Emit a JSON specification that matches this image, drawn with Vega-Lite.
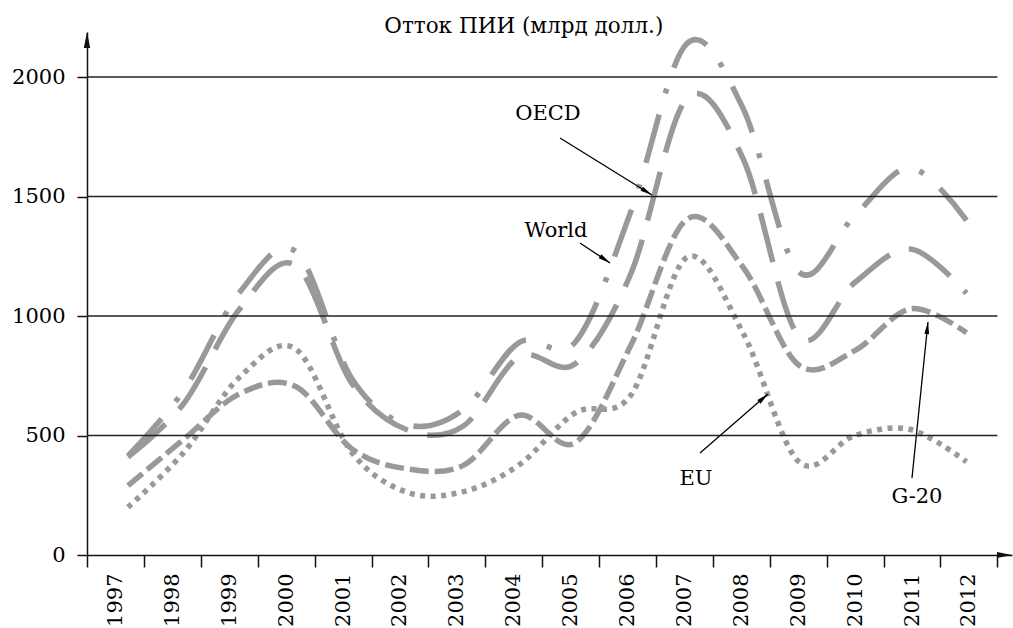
{
  "$schema": "https://vega.github.io/schema/vega-lite/v6.json",
  "width": 925,
  "height": 523,
  "autosize": {"type": "none"},
  "padding": {"left": 87, "top": 32, "right": 1, "bottom": 73},
  "background": "white",
  "config": {
    "view": {"stroke": null},
    "font": "DejaVu Serif",
    "axis": {
      "labelFont": "DejaVu Serif",
      "labelFontSize": 21,
      "labelColor": "#000",
      "domainColor": "#111",
      "domainWidth": 1.5,
      "tickColor": "#111",
      "tickWidth": 1.5,
      "grid": false,
      "labelFlush": false,
      "labelOverlap": false,
      "labelBound": false
    }
  },
  "datasets": {
    "fdi": [
      {"series": "World", "year": 1997, "value": 415},
      {"series": "World", "year": 1998, "value": 690},
      {"series": "World", "year": 1999, "value": 1100},
      {"series": "World", "year": 2000, "value": 1270},
      {"series": "World", "year": 2001, "value": 740},
      {"series": "World", "year": 2002, "value": 545},
      {"series": "World", "year": 2003, "value": 608},
      {"series": "World", "year": 2004, "value": 890},
      {"series": "World", "year": 2005, "value": 890},
      {"series": "World", "year": 2006, "value": 1440},
      {"series": "World", "year": 2007, "value": 2140},
      {"series": "World", "year": 2008, "value": 1870},
      {"series": "World", "year": 2009, "value": 1185},
      {"series": "World", "year": 2010, "value": 1420},
      {"series": "World", "year": 2011, "value": 1620},
      {"series": "World", "year": 2012, "value": 1400},
      {"series": "OECD", "year": 1997, "value": 410},
      {"series": "OECD", "year": 1998, "value": 635},
      {"series": "OECD", "year": 1999, "value": 1030},
      {"series": "OECD", "year": 2000, "value": 1212},
      {"series": "OECD", "year": 2001, "value": 720},
      {"series": "OECD", "year": 2002, "value": 523},
      {"series": "OECD", "year": 2003, "value": 540},
      {"series": "OECD", "year": 2004, "value": 830},
      {"series": "OECD", "year": 2005, "value": 800},
      {"series": "OECD", "year": 2006, "value": 1180},
      {"series": "OECD", "year": 2007, "value": 1910},
      {"series": "OECD", "year": 2008, "value": 1660},
      {"series": "OECD", "year": 2009, "value": 915},
      {"series": "OECD", "year": 2010, "value": 1140},
      {"series": "OECD", "year": 2011, "value": 1280},
      {"series": "OECD", "year": 2012, "value": 1095},
      {"series": "G-20", "year": 1997, "value": 290},
      {"series": "G-20", "year": 1998, "value": 485},
      {"series": "G-20", "year": 1999, "value": 675},
      {"series": "G-20", "year": 2000, "value": 705},
      {"series": "G-20", "year": 2001, "value": 445},
      {"series": "G-20", "year": 2002, "value": 360},
      {"series": "G-20", "year": 2003, "value": 375},
      {"series": "G-20", "year": 2004, "value": 585},
      {"series": "G-20", "year": 2005, "value": 470},
      {"series": "G-20", "year": 2006, "value": 880},
      {"series": "G-20", "year": 2007, "value": 1405},
      {"series": "G-20", "year": 2008, "value": 1205},
      {"series": "G-20", "year": 2009, "value": 795},
      {"series": "G-20", "year": 2010, "value": 855},
      {"series": "G-20", "year": 2011, "value": 1030},
      {"series": "G-20", "year": 2012, "value": 930},
      {"series": "EU", "year": 1997, "value": 200},
      {"series": "EU", "year": 1998, "value": 430},
      {"series": "EU", "year": 1999, "value": 745},
      {"series": "EU", "year": 2000, "value": 862},
      {"series": "EU", "year": 2001, "value": 430},
      {"series": "EU", "year": 2002, "value": 262},
      {"series": "EU", "year": 2003, "value": 265},
      {"series": "EU", "year": 2004, "value": 378},
      {"series": "EU", "year": 2005, "value": 595},
      {"series": "EU", "year": 2006, "value": 670},
      {"series": "EU", "year": 2007, "value": 1245},
      {"series": "EU", "year": 2008, "value": 930},
      {"series": "EU", "year": 2009, "value": 390},
      {"series": "EU", "year": 2010, "value": 500},
      {"series": "EU", "year": 2011, "value": 525},
      {"series": "EU", "year": 2012, "value": 390}
    ],
    "grid": [{"v": 500}, {"v": 1000}, {"v": 1500}, {"v": 2000}],
    "notes": [
      {"label": "OECD", "tx": 2004.513, "ty": 1820, "ax": 2004.728, "ay": 1744.8, "bx": 2006.374, "by": 1506, "angle": 121.6},
      {"label": "World", "tx": 2004.657, "ty": 1330, "ax": 2005.086, "ay": 1305.4, "bx": 2005.623, "by": 1221.8, "angle": 123.7},
      {"label": "EU", "tx": 2007.161, "ty": 293, "ax": 2007.233, "ay": 426.8, "bx": 2008.449, "by": 673.6, "angle": 49},
      {"label": "G-20", "tx": 2011.114, "ty": 216, "ax": 2011.025, "ay": 322.2, "bx": 2011.311, "by": 974.9, "angle": 5.9}
    ]
  },
  "layer": [
    {
      "data": {"name": "fdi"},
      "mark": {"type": "line", "interpolate": "cardinal", "strokeWidth": 5.5, "strokeCap": "butt", "color": "#999999"},
      "encoding": {
        "x": {
          "field": "year", "type": "quantitative",
          "scale": {"domain": [1996.2665, 2012.814], "nice": false, "zero": false},
          "axis": {
            "title": null,
            "values": [1996.2665, 1997.2844, 1998.3023, 1999.3202, 2000.3381, 2001.356, 2002.3739, 2003.3917, 2004.4096, 2005.4275, 2006.4454, 2007.4633, 2008.4812, 2009.4991, 2010.517, 2011.5349, 2012.5528],
            "labelExpr": "datum.value > 2012.3 ? '' : '' + (1997 + round((datum.value - 1996.2665) / 1.01789))",
            "labelAngle": -90,
            "labelOffset": 28.45,
            "tickSize": 12,
            "labelPadding": 6
          }
        },
        "y": {
          "field": "value", "type": "quantitative",
          "scale": {"domain": [0, 2188.3], "nice": false, "zero": false},
          "axis": {"title": null, "values": [0, 500, 1000, 1500, 2000], "format": "d", "tickSize": 10, "labelPadding": 12}
        },
        "strokeDash": {
          "field": "series", "type": "nominal",
          "scale": {"domain": ["World", "OECD", "G-20", "EU"], "range": [[50, 22, 5, 22], [50, 20], [19, 6], [5, 5.5]]},
          "legend": null
        },
        "detail": {"field": "series"}
      }
    },
    {
      "data": {"name": "grid"},
      "mark": {"type": "rule", "color": "#222", "strokeWidth": 1.5},
      "encoding": {
        "x": {"datum": 1996.2665, "type": "quantitative", "scale": {"domain": [1996.2665, 2012.814], "nice": false, "zero": false}},
        "x2": {"datum": 2012.5528},
        "y": {"field": "v", "type": "quantitative", "title": null, "scale": {"domain": [0, 2188.3], "nice": false, "zero": false}}
      }
    },
    {
      "data": {"values": [{}]},
      "mark": {"type": "point", "shape": "M0,0L0.4,2L-0.4,2Z", "filled": true, "color": "#111", "size": 256, "opacity": 1, "angle": 0, "strokeWidth": 0},
      "encoding": {
        "x": {"datum": 1996.2665, "type": "quantitative", "scale": {"domain": [1996.2665, 2012.814], "nice": false, "zero": false}},
        "y": {"datum": 2188.3, "type": "quantitative", "scale": {"domain": [0, 2188.3], "nice": false, "zero": false}}
      }
    },
    {
      "data": {"values": [{}]},
      "mark": {"type": "point", "shape": "M0,0L0.4,2L-0.4,2Z", "filled": true, "color": "#111", "size": 225, "opacity": 1, "angle": 90, "strokeWidth": 0},
      "encoding": {
        "x": {"datum": 2012.814, "type": "quantitative", "scale": {"domain": [1996.2665, 2012.814], "nice": false, "zero": false}},
        "y": {"datum": 0, "type": "quantitative", "scale": {"domain": [0, 2188.3], "nice": false, "zero": false}}
      }
    },
    {
      "data": {"name": "notes"},
      "mark": {"type": "rule", "color": "#000", "strokeWidth": 1.3},
      "encoding": {
        "x": {"field": "ax", "type": "quantitative", "title": null, "scale": {"domain": [1996.2665, 2012.814], "nice": false, "zero": false}},
        "y": {"field": "ay", "type": "quantitative", "title": null, "scale": {"domain": [0, 2188.3], "nice": false, "zero": false}},
        "x2": {"field": "bx"},
        "y2": {"field": "by"}
      }
    },
    {
      "data": {"name": "notes"},
      "mark": {"type": "point", "shape": "M0,0L0.4,2L-0.4,2Z", "filled": true, "color": "#000", "size": 144, "opacity": 1, "strokeWidth": 0},
      "encoding": {
        "x": {"field": "bx", "type": "quantitative", "title": null, "scale": {"domain": [1996.2665, 2012.814], "nice": false, "zero": false}},
        "y": {"field": "by", "type": "quantitative", "title": null, "scale": {"domain": [0, 2188.3], "nice": false, "zero": false}},
        "angle": {"field": "angle", "type": "quantitative", "scale": null}
      }
    },
    {
      "data": {"name": "notes"},
      "mark": {"type": "text", "font": "DejaVu Serif", "fontSize": 21, "color": "#000", "align": "center", "baseline": "alphabetic"},
      "encoding": {
        "x": {"field": "tx", "type": "quantitative", "title": null, "scale": {"domain": [1996.2665, 2012.814], "nice": false, "zero": false}},
        "y": {"field": "ty", "type": "quantitative", "title": null, "scale": {"domain": [0, 2188.3], "nice": false, "zero": false}},
        "text": {"field": "label"}
      }
    },
    {
      "data": {"values": [{"caption": "Отток ПИИ (млрд долл.)"}]},
      "mark": {"type": "text", "font": "DejaVu Serif", "fontSize": 21.5, "color": "#000", "align": "center", "baseline": "alphabetic"},
      "encoding": {
        "x": {"datum": 2004.08, "type": "quantitative", "scale": {"domain": [1996.2665, 2012.814], "nice": false, "zero": false}},
        "y": {"datum": 2183, "type": "quantitative", "scale": {"domain": [0, 2188.3], "nice": false, "zero": false}},
        "text": {"field": "caption"}
      }
    }
  ]
}
